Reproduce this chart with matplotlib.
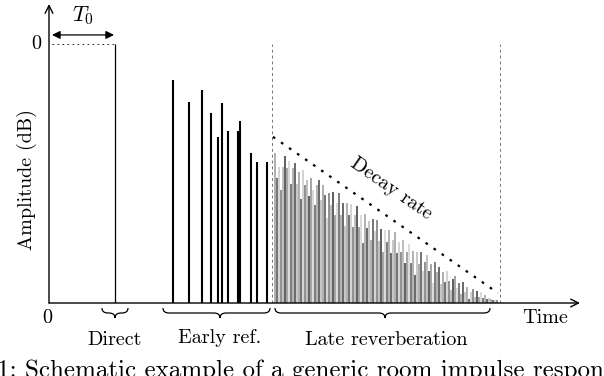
import numpy as np
import matplotlib
matplotlib.use('Agg')
import matplotlib.pyplot as plt
from matplotlib.path import Path
from matplotlib.patches import PathPatch

plt.rcParams['font.family'] = ['cmr10', 'DejaVu Serif']
plt.rcParams['mathtext.fontset'] = 'cm'
plt.rcParams['axes.formatter.use_mathtext'] = True

# time axis in arbitrary units, amplitude in dB (floor -60)
direct_t = 66
direct_db = 0.0

early_t = [123.7, 140.3, 153.3, 162.0, 169.3, 172.7, 178.7, 189.3, 191.3, 202.0, 207.7, 217.7]
early_db = [-8.3, -13.4, -10.7, -15.9, -21.5, -13.7, -20.2, -20.2, -17.8, -25.3, -27.3, -27.3]

late_t = np.arange(226, 450, 2)
late_db = [-25.3, -31.1, -28.5, -33.8, -28.6, -25.9, -28.8, -27.1, -32.4, -28.7,
           -27.5, -32.4, -29.7, -36.0, -29.3, -32.7, -31.5, -35.3, -31.1, -33.9,
           -37.3, -32.6, -31.4, -36.2, -32.6, -34.9, -40.2, -34.5, -37.3, -34.2,
           -39.5, -36.8, -34.6, -39.5, -36.8, -42.1, -36.9, -39.7, -37.1, -42.4,
           -39.7, -37.5, -42.3, -39.7, -46.0, -39.3, -42.6, -41.0, -45.3, -40.6,
           -43.4, -40.7, -45.6, -42.9, -48.2, -43.0, -45.9, -43.2, -48.5, -45.3,
           -43.6, -48.5, -45.8, -48.1, -45.4, -50.7, -48.1, -46.4, -50.7, -48.0,
           -53.4, -48.2, -51.0, -48.3, -52.6, -50.5, -48.8, -52.6, -50.9, -55.3,
           -50.6, -52.9, -51.7, -55.5, -52.9, -55.2, -52.5, -54.8, -57.1, -54.5,
           -53.8, -56.6, -55.4, -57.8, -55.1, -57.4, -56.2, -59.0, -57.4, -56.7,
           -58.5, -57.3, -58.7, -57.5, -58.8, -58.1, -59.0, -58.8, -59.1, -59.4,
           -59.4, -59.4]

decay_t = [224, 449]
decay_db = [-21.5, -57.7]

boundary_t = [223.3, 451]
floor_db = -60

shades = ['0.6', '0.3', '0.78', '0.45', '0.68', '0.2', '0.55', '0.82', '0.35', '0.62', '0.25', '0.72']

W, H = 555, 301
px_per_db = 259 / 60.0
fig = plt.figure(figsize=(6.04, 3.76), dpi=100)
ax = fig.add_axes([49 / 604, 73 / 376, W / 604, H / 376])
ax.set_xlim(0, W)
ax.set_ylim(floor_db, floor_db + H / px_per_db)
ax.axis('off')

# axes arrows
ax.annotate('', xy=(531, floor_db), xytext=(0, floor_db),
            arrowprops=dict(arrowstyle='->', lw=1.0, color='black', shrinkA=0, shrinkB=0,
                            mutation_scale=14))
ax.annotate('', xy=(0, floor_db + 299 / px_per_db), xytext=(0, floor_db),
            arrowprops=dict(arrowstyle='->', lw=1.0, color='black', shrinkA=0, shrinkB=0,
                            mutation_scale=14))

# direct sound and T0
ax.vlines(direct_t, floor_db, direct_db, color='black', lw=0.9)
ax.plot([3, direct_t], [0, 0], color='black', lw=0.6, ls=(0, (2, 4)))
ax.annotate('', xy=(3, 2.1), xytext=(direct_t - 1, 2.1),
            arrowprops=dict(arrowstyle='<|-|>', lw=0.9, color='black', shrinkA=0, shrinkB=0,
                            mutation_scale=12))
ax.text(34, 6.6, r'$T_0$', fontsize=16, ha='center', va='center')

# early reflections
ax.vlines(early_t, floor_db, early_db, color='black', lw=1.5)

# late reverberation
ax.vlines(late_t, floor_db, late_db, colors=[shades[i % len(shades)] for i in range(len(late_t))], lw=1.1)

# boundaries and decay envelope
ax.vlines(boundary_t, floor_db, 0, color='0.45', lw=0.7, ls=(0, (3, 3)))
ax.plot(decay_t, decay_db, color='black', lw=1.6, ls=(0, (1.2, 3.2)))
ax.text(342, -33.5, 'Decay rate', fontsize=14.5, rotation=-34.7, ha='center', va='center',
        rotation_mode='anchor')

# braces under the axis
def brace(x0, x1, xm, y0, depth):
    h = depth / px_per_db
    ym = y0 - h / 2
    yt = y0 - h
    r = 6
    verts = [(x0, y0), (x0, ym), (x0 + r, ym), (xm - r, ym), (xm, ym), (xm, yt),
             (xm, ym), (xm + r, ym), (x1 - r, ym), (x1, ym), (x1, y0)]
    codes = [Path.MOVETO, Path.CURVE3, Path.CURVE3, Path.LINETO, Path.CURVE3, Path.CURVE3,
             Path.CURVE3, Path.CURVE3, Path.LINETO, Path.CURVE3, Path.CURVE3]
    ax.add_patch(PathPatch(Path(verts, codes), fill=False, lw=0.9, color='black', clip_on=False))

y_br = floor_db - 5 / px_per_db
brace(53, 79, 66, y_br, 10)
brace(114, 221, 171, y_br, 10)
brace(226, 441, 336, y_br, 10)

fs = 14.5
ax.text(-13, 0, '0', fontsize=fs, ha='center', va='center')
ax.text(-2, floor_db - 15 / px_per_db, '0', fontsize=fs, ha='center', va='center')
ax.text(496, floor_db - 15 / px_per_db, 'Time', fontsize=fs, ha='center', va='center')
ax.text(66, floor_db - 37 / px_per_db, 'Direct', fontsize=fs, ha='center', va='center')
ax.text(171, floor_db - 35 / px_per_db, 'Early ref.', fontsize=fs, ha='center', va='center')
ax.text(337, floor_db - 37 / px_per_db, 'Late reverberation', fontsize=fs, ha='center', va='center')
ax.text(-22, -31.5, 'Amplitude (dB)', fontsize=fs, rotation=90, ha='center', va='center')

# caption is cropped by the figure edge, as in the source image
fig.text(-3 / 604, -1 / 376, '1: Schematic example of a generic room impulse response',
         fontsize=18, ha='left', va='baseline')

fig.savefig('out.png', dpi=100)
